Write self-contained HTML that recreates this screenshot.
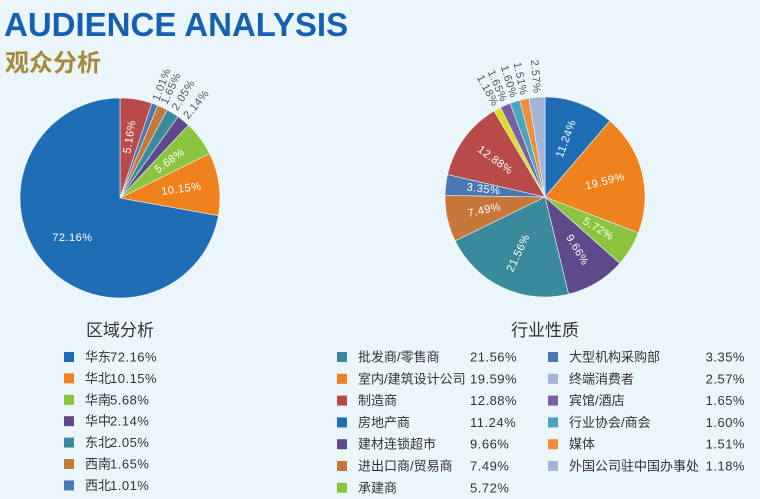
<!DOCTYPE html>
<html><head><meta charset="utf-8"><style>
body{margin:0;width:760px;height:499px;background:#eaf5fc;overflow:hidden;font-family:"Liberation Sans","Noto Sans CJK SC",sans-serif}
svg{position:absolute;left:0;top:0}
</style></head><body>
<svg id="s" width="760" height="499">
<text x="4" y="36" font-size="33" font-weight="bold" fill="#1560b0" font-family="Liberation Sans, sans-serif">AUDIENCE ANALYSIS</text>
<text x="5" y="71" font-size="24" font-weight="bold" fill="#a48a3a" font-family="Noto Sans CJK SC, sans-serif">观众分析</text>
<text x="120" y="336" font-size="17" fill="#333" text-anchor="middle">区域分析</text>
<text x="545" y="336" font-size="17" fill="#333" text-anchor="middle">行业性质</text>
<g id="g"></g>
</svg>
<script>
const regionNames=["其他","西北","西南","东北","华中","华南","华北","华东"];
const regionValues=[5.16,1.01,1.65,2.05,2.14,5.68,10.15,72.16];
const regionColors=["#b94a4a","#4a78b5","#c8773a","#3a8a9c","#5e4a8a","#8cc43f","#f0821e","#1f6db5"];
const indNames=["房地产商","室内/建筑设计公司","承建商","建材连锁超市","批发商/零售商","进出口商/贸易商","大型机构采购部","制造商","外国公司驻中国办事处","宾馆/酒店","行业协会/商会","媒体","终端消费者"];
const indValues=[11.24,19.59,5.72,9.66,21.56,7.49,3.35,12.88,1.18,1.65,1.60,1.51,2.57];
const indColors=["#1f6db5","#f0821e","#8cc43f","#5e4a8a","#3a8a9c","#c8773a","#4a78b5","#b94a4a","#d8e01a","#7b5ea4","#4aa5be","#ef8d3e","#a3b4d6"];
const regLegendOrder=[7,6,5,4,3,2,1,0];
const indLegendL=[4,1,7,0,3,5,2];
const indLegendR=[6,12,9,10,11,8];
const indLegendColorR=["#4a78b5","#a3b4d6","#7b5ea4","#4aa5be","#ef8d3e","#a3b4d6"];
const NS="http://www.w3.org/2000/svg";
const g=document.getElementById('g');
function mk(t,a,txt){const e=document.createElementNS(NS,t);for(const k in a)e.setAttribute(k,a[k]);if(txt!==undefined)e.textContent=txt;g.appendChild(e);return e;}
function pie(cx,cy,r,vals,cols,prefix){
 const tot=vals.reduce((a,b)=>a+b,0);let acc=0;
 vals.forEach((v,i)=>{
  const a0=acc/tot*2*Math.PI;acc+=v;const a1=acc/tot*2*Math.PI;
  const p=(a)=>[cx+r*Math.sin(a),cy-r*Math.cos(a)];
  const [x0,y0]=p(a0),[x1,y1]=p(a1);
  const path=mk('path',{d:`M${cx},${cy}L${x0},${y0}A${r},${r} 0 ${a1-a0>Math.PI?1:0} 1 ${x1},${y1}Z`,fill:cols[i],stroke:'#eaf5fc','stroke-width':0.6});
  
  
  const am=(a0+a1)/2;let rot=am*180/Math.PI-90;let flip=false;
  while(rot>90){rot-=180;flip=!flip;} while(rot<-90){rot+=180;flip=!flip;}
  if(v>50)rot=0;
  const lbl=v.toFixed(2)+'%';let t;
  if(v>=3){
   const lx=cx+r*0.62*Math.sin(am),ly=cy-r*0.62*Math.cos(am);
   t=mk('text',{x:lx,y:ly,'font-size':11,fill:'#fff','text-anchor':'middle','dominant-baseline':'central',transform:`rotate(${rot} ${lx} ${ly})`,'letter-spacing':'0.5'},lbl);
  }else{
   const lx=cx+(r+4)*Math.sin(am),ly=cy-(r+4)*Math.cos(am);
   t=mk('text',{x:lx,y:ly,'font-size':11,fill:'#555','text-anchor':flip?'end':'start','dominant-baseline':'central',transform:`rotate(${rot} ${lx} ${ly})`,'letter-spacing':'0.5'},lbl);
  }
  
  
 });
}
pie(120,198,100,regionValues,regionColors,'region');
pie(545,197,100,indValues,indColors,'industry');
function legend(x,y,col,name,val,px,anchor){
 const r=mk('rect',{x:x,y:y-5,width:10,height:10,fill:col});
 
 
 const t=mk('text',{x:x+21,y:y,'font-size':13,fill:'#333','dominant-baseline':'central'},name);
 
 
 const p=mk('text',{x:px,y:y,'font-size':13,fill:'#333','dominant-baseline':'central','text-anchor':anchor,'letter-spacing':'0.5'},val.toFixed(2)+'%');
 
 
}
regLegendOrder.forEach((k,i)=>legend(64,357+i*21.4,regionColors[k],regionNames[k],regionValues[k],110,'start'));
indLegendL.forEach((k,i)=>legend(337,357+i*21.8,indColors[k],indNames[k],indValues[k],470,'start'));
indLegendR.forEach((k,i)=>legend(548,357+i*21.8,indLegendColorR[i],indNames[k],indValues[k],745,'end'));
</script>
</body></html>
